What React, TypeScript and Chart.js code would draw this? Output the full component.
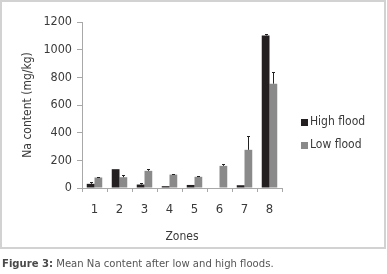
import React, { useEffect, useRef } from "react";
import { Chart, registerables } from "chart.js";

Chart.register(...registerables);

const zones = ["1", "2", "3", "4", "5", "6", "7", "8"];
const highFlood = [30, 136, 25, 13, 22, 0, 20, 1103];
const lowFlood = [76, 78, 124, 97, 81, 160, 276, 754];
const highFloodErr = [14, 0, 10, 0, 0, 0, 0, 12];
const lowFloodErr = [4, 17, 15, 5, 7, 10, 103, 82];
const seriesNames = ["High flood", "Low flood"];
const seriesColors = ["#231f20", "#8a8a8a"];

const FONT = "'Liberation Sans Narrow', 'DejaVu Sans Condensed', 'Liberation Sans', sans-serif";
const TEXT = "#3a3a3a";
const AXIS = "#a8a8a8";

const errorBars = {
  id: "errorBars",
  afterDatasetsDraw(chart: any) {
    const ctx = chart.ctx;
    const y = chart.scales.y;
    chart.data.datasets.forEach((ds: any, i: number) => {
      const meta = chart.getDatasetMeta(i);
      meta.data.forEach((bar: any, j: number) => {
        const e = ds.errors[j];
        if (!e) return;
        const v = ds.data[j];
        const top = Math.round(y.getPixelForValue(v + e)) + 0.5;
        const base = y.getPixelForValue(v);
        const x = Math.round(bar.x) + 0.5;
        ctx.save();
        ctx.strokeStyle = "#222";
        ctx.lineWidth = 1;
        ctx.beginPath();
        ctx.moveTo(x, base);
        ctx.lineTo(x, top);
        ctx.moveTo(x - 1.5, top);
        ctx.lineTo(x + 1.5, top);
        ctx.stroke();
        ctx.restore();
      });
    });
  },
};

const sideLegend = {
  id: "sideLegend",
  afterDraw(chart: any) {
    const ctx = chart.ctx;
    const area = chart.chartArea;
    const x0 = area.right + 19;
    const mid = (area.top + area.bottom) / 2;
    ctx.save();
    ctx.font = `12px ${FONT}`;
    ctx.textBaseline = "middle";
    ctx.textAlign = "left";
    chart.data.datasets.forEach((ds: any, i: number) => {
      const cy = mid + 17 + i * 23;
      ctx.fillStyle = ds.backgroundColor;
      ctx.fillRect(x0, Math.round(cy - 3.5), 7, 7);
      ctx.fillStyle = TEXT;
      ctx.fillText(ds.label, x0 + 9, cy);
    });
    ctx.restore();
  },
};

export default function App() {
  const ref = useRef<HTMLCanvasElement | null>(null);

  useEffect(() => {
    document.body.style.margin = "0";
    if (!ref.current) return;
    const chart = new Chart(ref.current, {
      type: "bar",
      data: {
        labels: zones,
        datasets: [
          {
            label: seriesNames[0],
            data: highFlood,
            errors: highFloodErr,
            backgroundColor: seriesColors[0],
            categoryPercentage: 0.62,
            barPercentage: 1,
          } as any,
          {
            label: seriesNames[1],
            data: lowFlood,
            errors: lowFloodErr,
            backgroundColor: seriesColors[1],
            categoryPercentage: 0.62,
            barPercentage: 1,
          } as any,
        ],
      },
      options: {
        animation: false,
        responsive: false,
        maintainAspectRatio: false,
        layout: { padding: { left: 0, right: 105, top: 22, bottom: 0 } },
        plugins: {
          legend: { display: false },
          tooltip: { enabled: false },
        },
        scales: {
          x: {
            grid: {
              offset: true,
              drawOnChartArea: false,
              drawTicks: true,
              tickLength: 4,
              color: AXIS,
            },
            border: { color: AXIS },
            ticks: {
              color: TEXT,
              font: { family: FONT, size: 13 },
              padding: 10,
              maxRotation: 0,
            },
            title: {
              display: true,
              text: "Zones",
              color: TEXT,
              font: { family: FONT, size: 12 },
              padding: { top: 0, bottom: 30 },
            },
            afterFit(scale: any) {
              scale.height = 86;
            },
          },
          y: {
            min: 0,
            max: 1200,
            grid: {
              drawOnChartArea: false,
              drawTicks: true,
              tickLength: 5,
              color: AXIS,
            },
            border: { color: AXIS },
            ticks: {
              stepSize: 200,
              color: TEXT,
              font: { family: FONT, size: 12.5 },
              padding: 5,
              callback: (v: any) => String(v),
            },
            title: {
              display: true,
              text: "Na content (mg/kg)",
              color: TEXT,
              font: { family: FONT, size: 12 },
              padding: { top: 21, bottom: 0 },
            },
            afterFit(scale: any) {
              scale.width = 82;
            },
          },
        },
      } as any,
      plugins: [errorBars, sideLegend],
    });
    return () => chart.destroy();
  }, []);

  return (
    <div style={{ position: "relative", width: 387, height: 274, background: "#fff", overflow: "hidden" }}>
      <canvas ref={ref} width={387} height={274} style={{ position: "absolute", left: 0, top: 0 }} />
      <div
        style={{
          position: "absolute",
          left: 0,
          top: 0,
          width: 386,
          height: 249,
          boxSizing: "border-box",
          border: "2px solid #d2d2d2",
          pointerEvents: "none",
        }}
      />
      <div
        style={{
          position: "absolute",
          left: 2,
          top: 256,
          font: `11.2px ${FONT}`,
          color: "#555",
          whiteSpace: "nowrap",
          lineHeight: "16px",
        }}
      >
        <b style={{ color: "#4a4a4a" }}>Figure 3:</b> Mean Na content after low and high floods.
      </div>
    </div>
  );
}
